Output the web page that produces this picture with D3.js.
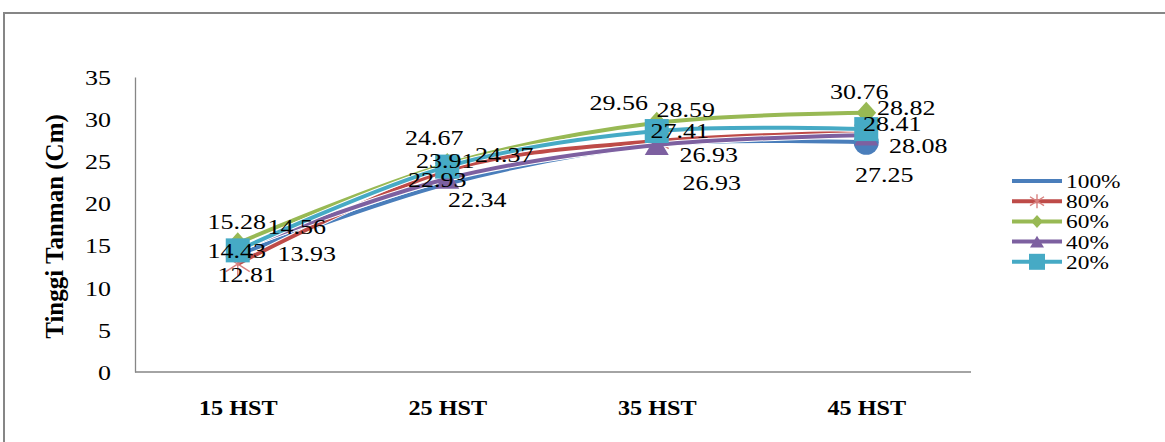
<!DOCTYPE html>
<html>
<head>
<meta charset="utf-8">
<script src="https://cdn.jsdelivr.net/npm/d3@7"></script>
<style>
  html, body { margin: 0; padding: 0; background: #fff; }
  svg { display: block; }
  svg text { font-family: "Liberation Serif", "DejaVu Serif", serif; }
</style>
</head>
<body>
<svg id="chart" width="1165" height="442"></svg>
<script>
// Plant height (cm) per observation day for each watering level
const categories = ["15 HST", "25 HST", "35 HST", "45 HST"];
const seriesNames = ["100%", "80%", "60%", "40%", "20%"];
const values100 = [13.93, 22.34, 26.93, 27.25];
const values80  = [12.81, 23.91, 27.41, 28.41];
const values60  = [15.28, 24.67, 29.56, 30.76];
const values40  = [14.56, 22.93, 26.93, 28.08];
const values20  = [14.43, 24.37, 28.59, 28.82];
const yTicks = [0, 5, 10, 15, 20, 25, 30, 35];
const yTitle = "Tinggi Tanman (Cm)";

// Label nudges (px) so overlapping value labels stay readable
const labelNudge = [
  [[69, 0], [30, 16], [55, 38], [18, 33]],
  [[9, 11], [-2, -9], [23, -10], [26, -8]],
  [[-1, -21], [-13, -26], [-38, -20], [-7, -21]],
  [[59, -22], [-10, 1], [52, 10], [52, 11]],
  [[-1, 1], [57, -11], [29, -21], [40, -21]]
];

const colors = ["#4A7EBB", "#BE4B48", "#98B954", "#7D60A0", "#46AAC5"];
const markerKinds = ["circle", "star", "diamond", "triangle", "square"];
const allValues = [values100, values80, values60, values40, values20];

const FONT = "'Liberation Serif', 'DejaVu Serif', serif";
const svg = d3.select("#chart");
const W = 1165, H = 442;
const plot = { left: 133, right: 971, top: 77, bottom: 372 };
const SX = 1.3; // horizontal stretch of the serif lettering

// outer frame
svg.append("rect")
  .attr("x", 4).attr("y", 13)
  .attr("width", W + 10).attr("height", H + 10)
  .attr("fill", "#fff").attr("stroke", "#868686").attr("stroke-width", 2);

const x = d3.scalePoint().domain(categories).range([plot.left, plot.right]).padding(0.5);
const y = d3.scaleLinear().domain([0, 35]).range([plot.bottom, plot.top]);

function stretchedText(parent, tx, ty, str, opts) {
  const g = parent.append("g").attr("transform", `translate(${tx},${ty}) scale(${opts.sx || 1},1)`);
  return g.append("text")
    .attr("x", 0).attr("y", 0)
    .attr("font-family", FONT)
    .attr("text-anchor", opts.anchor || "middle")
    .attr("dominant-baseline", opts.baseline || "central")
    .attr("font-size", opts.size)
    .attr("font-weight", opts.weight || "normal")
    .attr("fill", "#000")
    .text(str);
}

// y axis: line + tick labels
const yAxis = d3.axisLeft(y).tickValues(yTicks).tickSize(0).tickPadding(0);
const yg = svg.append("g").attr("transform", `translate(${plot.left + 2},0)`).call(yAxis);
yg.attr("font-family", FONT);
yg.select(".domain").attr("stroke", "#868686").attr("stroke-width", 1.3);
yg.selectAll(".tick text").remove();
yg.selectAll(".tick").each(function(d) {
  stretchedText(d3.select(this), -24, 0.5, String(d), { sx: SX, size: 20, anchor: "end" });
});

// x axis: baseline + bold category labels
const xAxis = d3.axisBottom(x).tickSize(0).tickPadding(0);
const xg = svg.append("g").attr("transform", `translate(0,${plot.bottom})`).call(xAxis);
xg.attr("font-family", FONT);
xg.select(".domain").attr("stroke", "#868686").attr("stroke-width", 1.3)
  .attr("d", `M${plot.left + 2},0H${plot.right}`);
xg.selectAll(".tick text").remove();
xg.selectAll(".tick").each(function(d) {
  stretchedText(d3.select(this), 0, 43, d, { sx: 1.1, size: 22, weight: "bold", baseline: "auto" });
});

// y axis title
svg.append("text")
  .attr("transform", `translate(63,${(plot.top + plot.bottom) / 2 + 2}) rotate(-90)`)
  .attr("font-family", FONT)
  .attr("text-anchor", "middle")
  .attr("font-size", 25).attr("font-weight", "bold")
  .text(yTitle);

// marker drawing
function drawMarker(g, kind, cx, cy, s, color) {
  if (kind === "circle") {
    g.append("circle").attr("cx", cx).attr("cy", cy).attr("r", s / 2).attr("fill", color);
  } else if (kind === "square") {
    g.append("rect").attr("x", cx - s / 2).attr("y", cy - s / 2)
      .attr("width", s).attr("height", s).attr("fill", color);
  } else if (kind === "diamond") {
    const hw = s * 0.45, hh = s * 0.5;
    g.append("path").attr("d", `M${cx},${cy - hh}L${cx + hw},${cy}L${cx},${cy + hh}L${cx - hw},${cy}Z`)
      .attr("fill", color);
  } else if (kind === "triangle") {
    const hw = s / 2, hh = s * 0.42;
    g.append("path").attr("d", `M${cx},${cy - hh}L${cx + hw},${cy + hh}L${cx - hw},${cy + hh}Z`)
      .attr("fill", color);
  } else if (kind === "star") {
    const h = s / 2, dy = s * 0.32;
    g.append("path")
      .attr("d", `M${cx},${cy - h}V${cy + h}M${cx - h},${cy - dy}L${cx + h},${cy + dy}M${cx - h},${cy + dy}L${cx + h},${cy - dy}`)
      .attr("stroke", "#D8807E").attr("stroke-width", 1.4).attr("fill", "none");
  }
}

const line = d3.line()
  .x((d, i) => x(categories[i]))
  .y(d => y(d))
  .curve(d3.curveCatmullRom.alpha(0));

const plotG = svg.append("g");
allValues.forEach((vals, si) => {
  const g = plotG.append("g");
  g.append("path").datum(vals).attr("d", line)
    .attr("fill", "none").attr("stroke", "#fff").attr("stroke-width", 6).attr("stroke-linejoin", "round");
  g.append("path").datum(vals).attr("d", line)
    .attr("fill", "none").attr("stroke", colors[si]).attr("stroke-width", 4).attr("stroke-linejoin", "round");
  vals.forEach((v, i) => {
    const kind = markerKinds[si];
    // the 100% series carries its marker only on the final reading
    if (kind === "circle" && i !== vals.length - 1) return;
    const size = { circle: 25, square: 24, diamond: 22, triangle: 24, star: 24 }[kind];
    drawMarker(g, kind, x(categories[i]), y(v), size, colors[si]);
  });
});

// value labels
const labelG = svg.append("g");
allValues.forEach((vals, si) => {
  vals.forEach((v, i) => {
    const [dx, dy] = labelNudge[si][i];
    stretchedText(labelG, x(categories[i]) + dx, y(v) + dy, v.toFixed(2), { sx: SX, size: 20 });
  });
});

// legend
const legend = svg.append("g");
const legendX = 1012, legendY0 = 181, legendStep = 20.2;
seriesNames.forEach((name, si) => {
  const ly = legendY0 + si * legendStep;
  const g = legend.append("g");
  g.append("line").attr("x1", legendX).attr("x2", legendX + 50).attr("y1", ly).attr("y2", ly)
    .attr("stroke", colors[si]).attr("stroke-width", 4);
  const kind = markerKinds[si];
  if (kind !== "circle") {
    const size = { square: 16, diamond: 13, triangle: 14, star: 14 }[kind];
    drawMarker(g, kind, legendX + 25, ly, size, colors[si]);
  }
  stretchedText(g, legendX + 54, ly + 1, name, { sx: SX, size: 18, anchor: "start" });
});
</script>
</body>
</html>
